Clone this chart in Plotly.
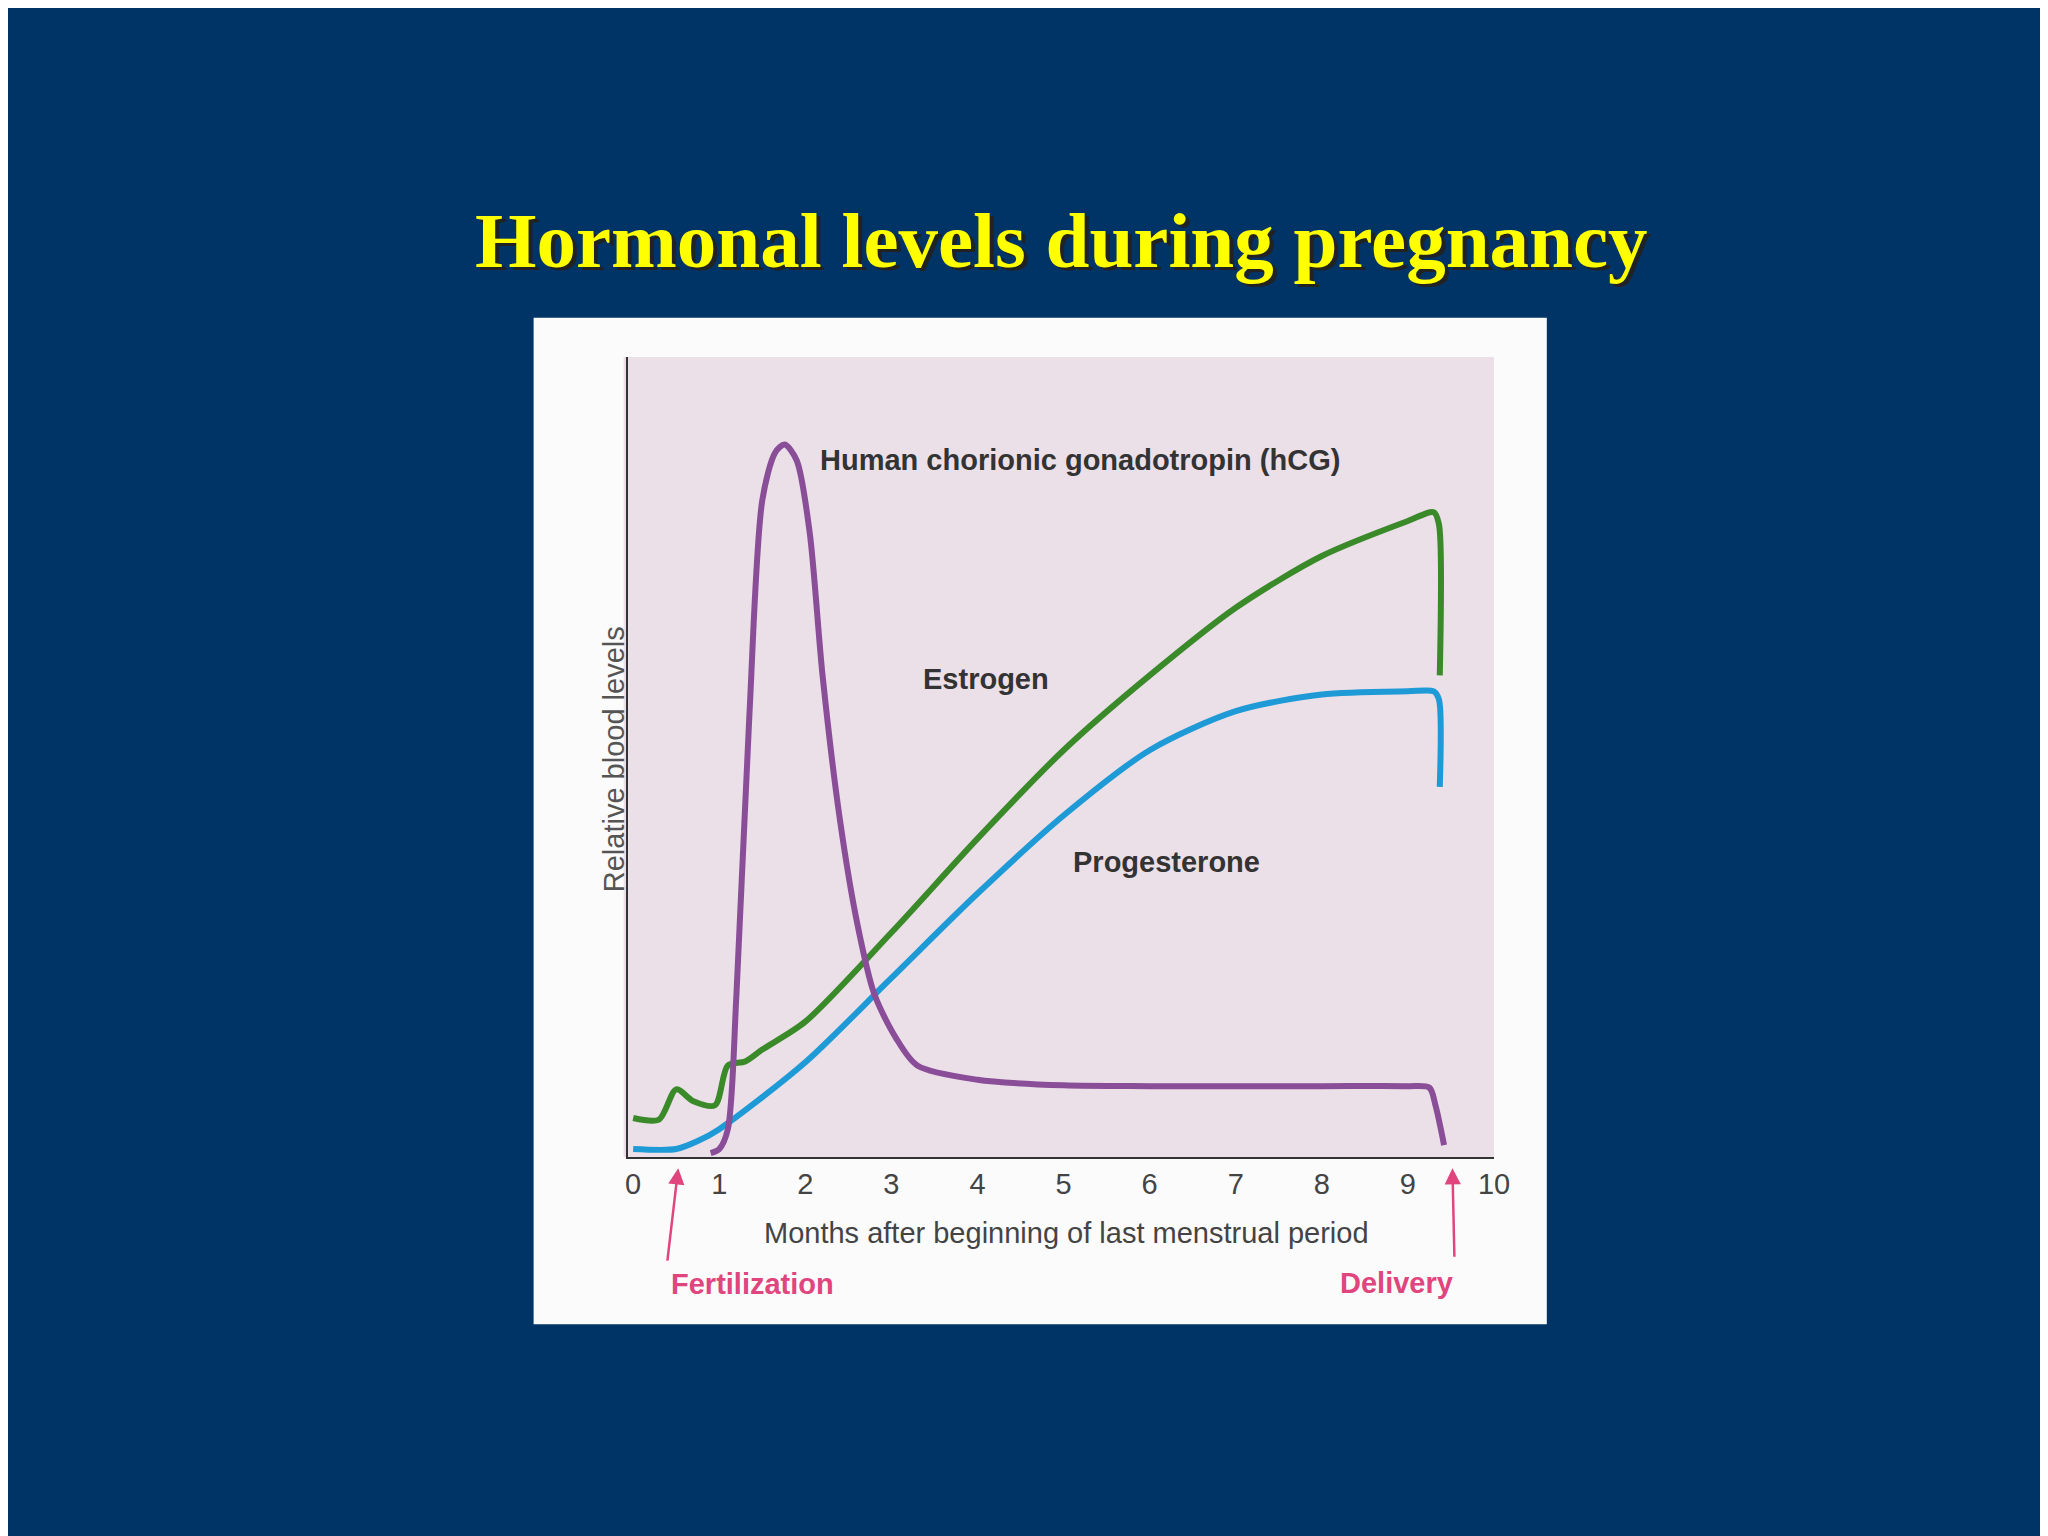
import plotly.graph_objects as go

# months after LMP / relative level (0-100)
hcg_x = [0.9, 1.0, 1.1, 1.2, 1.35, 1.5, 1.65, 1.76, 1.9, 2.05, 2.2, 2.4, 2.6, 2.8, 3.05, 3.3, 4, 5, 6, 7, 8, 9, 9.25, 9.32, 9.42]
hcg_y = [0, 0.5, 3, 20, 55, 82, 88, 89, 87, 78, 60, 42, 29, 20, 14.5, 11, 9.2, 8.5, 8.4, 8.4, 8.4, 8.4, 8.2, 6, 1]

est_x = [0, 0.3, 0.5, 0.7, 0.95, 1.1, 1.3, 1.5, 2, 3, 4, 5, 6, 7, 8, 9, 9.3, 9.36, 9.37]
est_y = [4.4, 4.2, 8, 6.5, 6, 11, 11.5, 13, 16.5, 27.7, 39.5, 50.6, 60, 68.5, 75, 79.4, 80.5, 79, 60]

prog_x = [0, 0.5, 0.75, 1, 2, 3, 4, 5, 6, 7, 8, 9, 9.3, 9.36, 9.37]
prog_y = [0.5, 0.5, 1.5, 3, 11.4, 22, 32.6, 42.4, 50.6, 55.5, 57.6, 58, 58, 57, 46]

ticks = list(range(11))

fig = go.Figure()
sm = dict(width=6, shape="spline", smoothing=0.8)
fig.add_trace(go.Scatter(x=est_x, y=est_y, mode="lines", line=dict(color="#3a8a2a", **sm)))
fig.add_trace(go.Scatter(x=prog_x, y=prog_y, mode="lines", line=dict(color="#1e9ad6", **sm)))
fig.add_trace(go.Scatter(x=hcg_x, y=hcg_y, mode="lines", line=dict(color="#8a4e99", **sm)))

sans = "Liberation Sans, Arial"
lab = dict(family=sans, size=29, color="#333333")
pink = "#e0457e"
P = dict(xref="paper", yref="paper", showarrow=False, yanchor="middle")
arrow = dict(xref="paper", yref="paper", text="", showarrow=True, arrowcolor=pink,
             arrowhead=2, arrowwidth=2.5, arrowsize=1.3)
annos = [
    dict(x=2.15, y=87, text="<b>Human chorionic gonadotropin (hCG)</b>", xanchor="left", showarrow=False, font=lab),
    dict(x=4.1, y=59.5, text="<b>Estrogen</b>", xanchor="center", showarrow=False, font=lab),
    dict(x=6.2, y=36.5, text="<b>Progesterone</b>", xanchor="center", showarrow=False, font=lab),
    dict(x=0.058, y=-0.014, ax=-11, ay=94, **arrow),
    dict(x=0.952, y=-0.014, ax=2, ay=90, **arrow),
    dict(x=0.047, y=-0.159, text="<b>Fertilization</b>", font=dict(family=sans, size=29, color=pink), **P),
    dict(x=0.955, y=-0.157, text="<b>Delivery</b>", font=dict(family=sans, size=29, color=pink), **P),
    dict(x=0.506, y=-0.095, text="Months after beginning of last menstrual period",
         font=dict(family=sans, size=29, color="#444444"), **P),
    dict(x=-0.036, y=0.497, text="Relative blood levels", textangle=-90,
         font=dict(family=sans, size=29, color="#555555"), **P),
    dict(x=0.5, y=1.146, yshift=-3, xshift=4, text="<b>Hormonal levels during pregnancy</b>",
         font=dict(family="Liberation Serif, Times New Roman", size=79, color="#222222"), **P),
    dict(x=0.5, y=1.146, text="<b>Hormonal levels during pregnancy</b>",
         font=dict(family="Liberation Serif, Times New Roman", size=79, color="#ffff00"), **P),
]

fig.update_layout(
    width=2048, height=1536, showlegend=False,
    paper_bgcolor="#003366", plot_bgcolor="rgba(0,0,0,0)",
    margin=dict(l=620, r=562, t=349, b=387),
    annotations=annos,
    shapes=[
        dict(type="rect", xref="paper", yref="paper", x0=-0.109, x1=1.061, y0=-0.209, y1=1.049,
             fillcolor="#fbfbfc", line=dict(width=0), layer="below"),
        dict(type="rect", xref="paper", yref="paper", x0=-0.005, x1=1.0, y0=0, y1=1.0,
             fillcolor="#ebdfe8", line=dict(width=0), layer="below"),
    ],
    xaxis=dict(range=[-0.06, 10], tickvals=ticks, showgrid=False, zeroline=False, showline=True,
               linecolor="#333333", linewidth=2, tickfont=dict(family=sans, size=29, color="#444444"), ticks=""),
    yaxis=dict(range=[-0.5, 100], showticklabels=False, showgrid=False, zeroline=False, showline=True,
               linecolor="#333333", linewidth=2),
)
fig.write_html("out.html")
